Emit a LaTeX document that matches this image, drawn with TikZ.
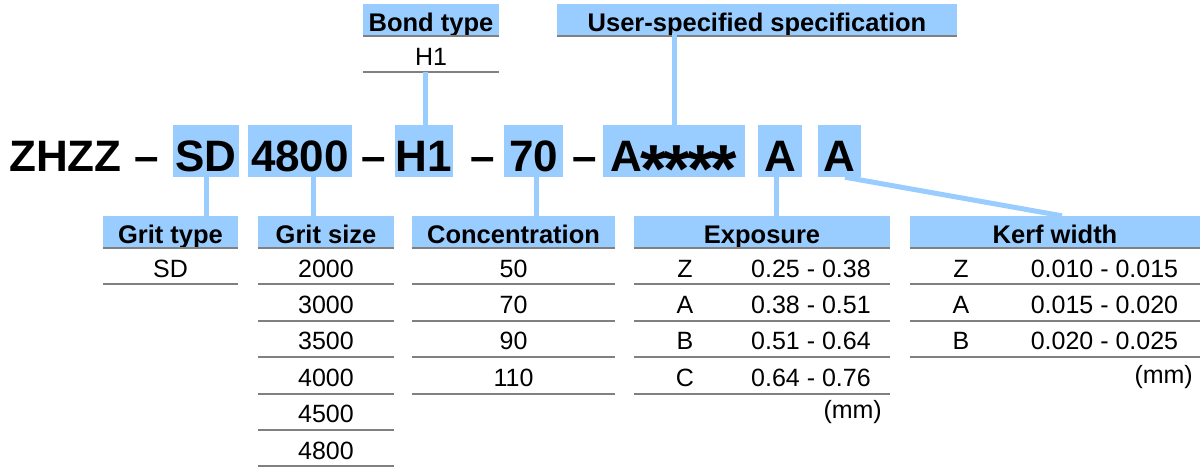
\documentclass[tikz,border=0pt]{standalone}
\usepackage{fontspec}
\setmainfont{Liberation Sans}
\definecolor{hlblue}{HTML}{99CCFF}
\definecolor{rulegray}{HTML}{808080}
\newcommand{\astr}{\raisebox{-21.5pt}{\fontsize{68}{68}\selectfont\bfseries *}}
\begin{document}
\begin{tikzpicture}[x=1pt,y=-1pt,
  code/.style={font=\bfseries\fontsize{44}{54}\selectfont, inner sep=0pt, text height=44pt, text depth=4pt, minimum height=52pt},
  hl/.style={code, fill=hlblue},
  conn/.style={draw=hlblue, line width=5pt},
  hdr/.style={fill=hlblue, inner sep=0pt, minimum height=31pt, text height=25pt, text depth=2pt, font=\bfseries\fontsize{25.5}{30}\selectfont},
  cell/.style={inner sep=0pt, anchor=base, font=\fontsize{25}{30}\selectfont},
  rowline/.style={draw=rulegray, line width=2pt}]
\useasboundingbox (0,0) rectangle (1201,467);

% ---- main code row ----
\node[code, anchor=west] (zhzz) at (9,151) {ZHZZ};
\node[code] (d1) at (147,151) {–};
\node[hl, minimum width=66pt] (sd) at (206,151) {SD};
\node[hl, minimum width=104pt] (b4800) at (300,151) {4800};
\node[code] (d2) at (373.5,151) {–};
\node[hl, minimum width=58pt] (h1) at (424,151) {H1};
\node[code] (d3) at (483,151) {–};
\node[hl, minimum width=59pt] (c70) at (533.5,151) {70};
\node[code] (d4) at (585,151) {–};
\node[hl, minimum width=142pt] (user) at (674,151) {A\kern-2pt\astr\kern-3pt\astr\kern-3pt\astr\kern-3pt\astr};
\node[hl, minimum width=44pt] (a1) at (780,151) {A};
\node[hl, minimum width=43pt] (a2) at (839.5,151) {A};

% ---- top tables ----
\node[hdr, minimum width=136pt] (bond) at (431,19.5) {Bond type};
\draw[rowline] (363,36) -- (499,36);
\node[cell] (bondh1) at (431,65) {H1};
\draw[rowline] (363,72) -- (499,72);
\coordinate (bondline) at (431,72);

\node[hdr, minimum width=400pt] (userh) at (757,19.5) {User-specified specification};
\draw[rowline] (557,36) -- (957,36);

% ---- Grit type ----
\node[hdr, minimum width=135pt] (gt) at (170.5,231.5) {Grit type};
\draw[rowline] (103,248) -- (238,248);
\node[cell] (gtsd) at (170.5,277) {SD};
\draw[rowline] (103,284.4) -- (238,284.4);

% ---- Grit size ----
\node[hdr, minimum width=136pt] (gs) at (326,231.5) {Grit size};
\draw[rowline] (258,248) -- (394,248);
\foreach \v [count=\i from 0] in {2000,3000,3500,4000,4500,4800}{
  \node[cell] (gs\i) at (326,{277+36.4*\i}) {\v};
  \draw[rowline] (258,{284.4+36.4*\i}) -- (394,{284.4+36.4*\i});
}

% ---- Concentration ----
\node[hdr, minimum width=203pt] (conc) at (513.5,231.5) {Concentration};
\draw[rowline] (412,248) -- (615,248);
\foreach \v [count=\i from 0] in {50,70,90,110}{
  \node[cell] (cc\i) at (513.5,{277+36.4*\i}) {\v};
  \draw[rowline] (412,{284.4+36.4*\i}) -- (615,{284.4+36.4*\i});
}

% ---- Exposure ----
\node[hdr, minimum width=256pt] (exp) at (762,231.5) {Exposure};
\draw[rowline] (634,248) -- (890,248);
\foreach \l/\v [count=\i from 0] in {Z/0.25 - 0.38,A/0.38 - 0.51,B/0.51 - 0.64,C/0.64 - 0.76}{
  \node[cell] (exl\i) at (685,{277+36.4*\i}) {\l};
  \node[cell] (exv\i) at (811,{277+36.4*\i}) {\v};
  \draw[rowline] (634,{284.4+36.4*\i}) -- (890,{284.4+36.4*\i});
}
\node[cell, anchor=base east] (exmm) at (882,418) {(mm)};

% ---- Kerf width ----
\node[hdr, minimum width=290pt] (kerf) at (1055,231.5) {Kerf width};
\draw[rowline] (910,248) -- (1200,248);
\foreach \l/\v [count=\i from 0] in {Z/0.010 - 0.015,A/0.015 - 0.020,B/0.020 - 0.025}{
  \node[cell] (kfl\i) at (961,{277+36.4*\i}) {\l};
  \node[cell] (kfv\i) at (1104.5,{277+36.4*\i}) {\v};
  \draw[rowline] (910,{284.4+36.4*\i}) -- (1200,{284.4+36.4*\i});
}
\node[cell, anchor=base east] (kfmm) at (1193,383) {(mm)};

% ---- connectors ----
\draw[conn] (sd.south) -- (sd.south |- gt.north);
\draw[conn] ([xshift=13pt]b4800.south) -- ([xshift=13pt]b4800.south |- gs.north);
\draw[conn] ([xshift=1pt]h1.north) -- ([xshift=1pt]h1.north |- bondline);
\draw[conn] ([xshift=2.5pt]c70.south) -- ([xshift=2.5pt]c70.south |- conc.north);
\draw[conn] (user.north) -- ([yshift=2pt]user.north |- userh.south);
\draw[conn] ([xshift=-4pt]a1.south) -- ([xshift=-4pt]a1.south |- exp.north);
\draw[conn] ([xshift=5.5pt]a2.south) -- ([xshift=7pt]kerf.north);
\end{tikzpicture}
\end{document}
